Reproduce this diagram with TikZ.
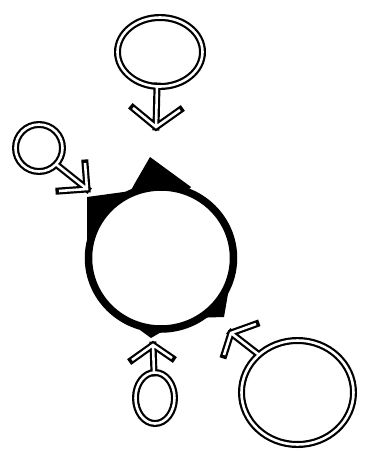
\documentclass[tikz,border=0pt]{standalone}
\newcommand\dblpath[1]{\draw[blk] #1; \draw[wht] #1;}
\begin{document}
\begin{tikzpicture}[x=1pt,y=-1pt,
  blk/.style={line width=7pt,black,line cap=rect,line join=miter},
  wht/.style={line width=2.6pt,white,line cap=butt,line join=miter},
  spike/.style={fill=black},
  ring/.style={draw=black,line width=7.5pt,fill=white}]
\useasboundingbox (0,0) rectangle (365,451);
% receptor
\coordinate (rc) at (161,258);
\fill[spike] (130,192) -- (135,183) -- (150,157) -- (191,187) -- (175,205) -- cycle;
\fill[spike] (131,191) -- (87,197) -- (87,240) -- (110,230) -- cycle;
\fill[spike] (229,288) -- (224,317) -- (192,318) -- (200,300) -- cycle;
\fill[spike] (140,330) -- (151,338) -- (163,331) -- cycle;
\draw[ring] (rc) ellipse (72.5 and 71);
% top symbol
\coordinate (tc) at (160,52);
\coordinate (ts) at (157,86);
\coordinate (tt) at (156,127);
\dblpath{(tc) ellipse (42.5 and 34.5) (ts) -- (tt) (133,108) -- (tt) -- (180,110)}
% left symbol
\coordinate (lc) at (39,148);
\coordinate (ls) at (57,165);
\coordinate (lt) at (87,189);
\dblpath{(lc) circle (23.5) (ls) -- (lt) (85,163) -- (lt) -- (59,191)}
% right symbol
\coordinate (rsc) at (297.5,392.5);
\coordinate (rs) at (258,354);
\coordinate (rt) at (231,333);
\dblpath{(rsc) ellipse (56 and 52) (rs) -- (rt) (256,324) -- (rt) -- (224,355)}
% bottom symbol
\coordinate (bc) at (155,398);
\coordinate (bs) at (154,373);
\coordinate (bt) at (153,345);
\dblpath{(bc) ellipse (19.5 and 25.5) (bs) -- (bt) (132,360) -- (bt) -- (172,358)}
\end{tikzpicture}
\end{document}
